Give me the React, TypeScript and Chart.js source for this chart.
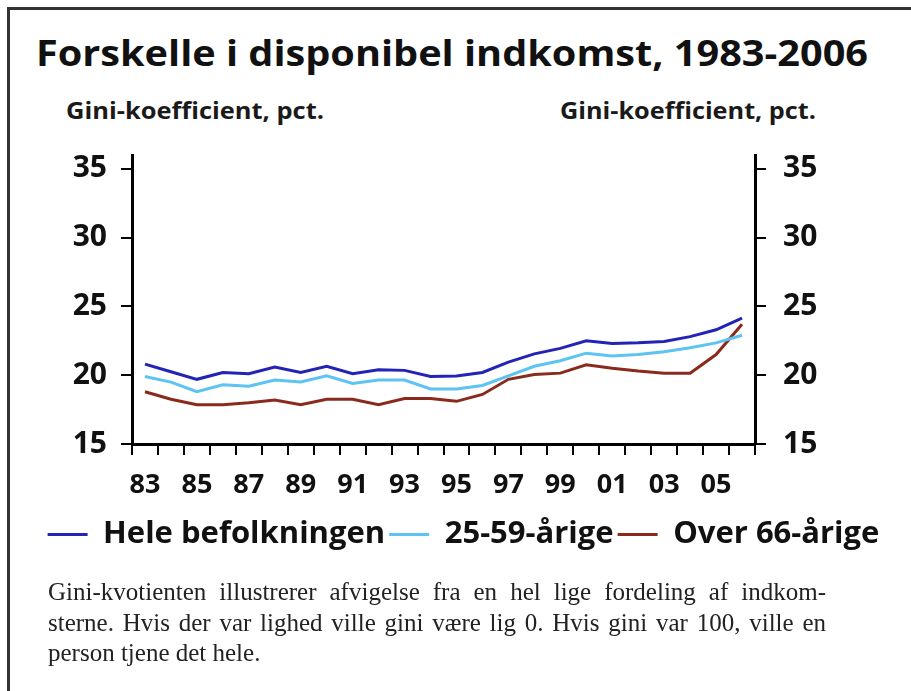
import React, { useEffect, useLayoutEffect, useRef } from 'react';
import { Chart, registerables } from 'chart.js';

Chart.register(...registerables);

const TITLE = 'Forskelle i disponibel indkomst, 1983-2006';
const UNIT_LABEL = 'Gini-koefficient, pct.';
const YEARS = ['83', '84', '85', '86', '87', '88', '89', '90', '91', '92', '93', '94', '95', '96', '97', '98', '99', '00', '01', '02', '03', '04', '05', '06'];
const Y_TICKS = [15, 20, 25, 30, 35];
const SERIES_NAMES = ['Hele befolkningen', '25-59-årige', 'Over 66-årige'];
const HELE = [20.8, 20.25, 19.7, 20.2, 20.1, 20.6, 20.2, 20.65, 20.1, 20.4, 20.35, 19.9, 19.95, 20.2, 20.95, 21.55, 21.95, 22.5, 22.3, 22.35, 22.45, 22.8, 23.3, 24.15];
const AGE_25_59 = [19.9, 19.5, 18.8, 19.3, 19.2, 19.65, 19.5, 19.95, 19.4, 19.65, 19.65, 19.0, 19.0, 19.25, 19.95, 20.65, 21.05, 21.6, 21.4, 21.5, 21.7, 22.0, 22.35, 22.9];
const OVER_66 = [18.8, 18.25, 17.85, 17.85, 18.0, 18.2, 17.85, 18.25, 18.25, 17.85, 18.3, 18.3, 18.1, 18.6, 19.7, 20.05, 20.15, 20.75, 20.5, 20.3, 20.15, 20.15, 21.5, 23.7];
const SERIES_COLORS = ['#2323b5', '#5cc3f2', '#8a2a1c'];
const CAPTION_LINES = [
  'Gini-kvotienten illustrerer afvigelse fra en hel lige fordeling af indkom-',
  'sterne. Hvis der var lighed ville gini være lig 0. Hvis gini var 100, ville en',
  'person tjene det hele.',
];

const SANS = '"Open Sans", "Noto Sans", sans-serif';

function FitText(props: { text: string; left: number; top: number; width: number; style: React.CSSProperties }) {
  const ref = useRef<HTMLSpanElement>(null);
  useLayoutEffect(() => {
    const el = ref.current;
    if (!el) return;
    el.style.transform = 'none';
    const w = el.getBoundingClientRect().width;
    if (w > 0) el.style.transform = `scaleX(${props.width / w})`;
  }, [props.text, props.width]);
  return (
    <span
      ref={ref}
      style={{
        position: 'absolute',
        left: props.left,
        top: props.top,
        whiteSpace: 'nowrap',
        display: 'inline-block',
        transformOrigin: '0 0',
        ...props.style,
      }}
    >
      {props.text}
    </span>
  );
}

export default function App() {
  const canvasRef = useRef<HTMLCanvasElement>(null);

  useEffect(() => {
    const canvas = canvasRef.current;
    if (!canvas) return;
    const setTicks = (axis: any) => {
      axis.ticks = Y_TICKS.map((v) => ({ value: v }));
    };
    const yCommon = (padding: number) => ({
      min: 15,
      max: 36,
      afterBuildTicks: setTicks,
      grid: { drawOnChartArea: false, drawTicks: true, tickLength: 11, color: '#000', lineWidth: 2 },
      border: { display: true, color: '#000', width: 3 },
      ticks: { padding, color: '#111', font: { family: SANS, size: 30, weight: 'bold' } },
    });
    const chart = new Chart(canvas, {
      type: 'line',
      data: {
        labels: YEARS,
        datasets: [
          { label: SERIES_NAMES[0], data: HELE, borderColor: SERIES_COLORS[0], backgroundColor: SERIES_COLORS[0], borderWidth: 3, pointRadius: 0, tension: 0, yAxisID: 'y' },
          { label: SERIES_NAMES[1], data: AGE_25_59, borderColor: SERIES_COLORS[1], backgroundColor: SERIES_COLORS[1], borderWidth: 3, pointRadius: 0, tension: 0, yAxisID: 'y' },
          { label: SERIES_NAMES[2], data: OVER_66, borderColor: SERIES_COLORS[2], backgroundColor: SERIES_COLORS[2], borderWidth: 3, pointRadius: 0, tension: 0, yAxisID: 'y' },
        ],
      },
      options: {
        responsive: false,
        animation: false,
        devicePixelRatio: 1,
        layout: { padding: { top: 155, left: 16, right: 0, bottom: 131 } },
        plugins: {
          legend: {
            position: 'bottom',
            labels: {
              usePointStyle: true,
              pointStyle: 'line',
              pointStyleWidth: 40,
              padding: 4,
              color: '#111',
              font: { family: SANS, size: 31, weight: 'bold' },
            },
          },
          tooltip: { enabled: false },
        },
        scales: {
          x: {
            type: 'category',
            offset: true,
            grid: { display: true, offset: true, drawOnChartArea: false, drawTicks: true, tickLength: 11, color: '#000', lineWidth: 2 },
            border: { display: true, color: '#000', width: 3 },
            ticks: {
              autoSkip: false,
              maxRotation: 0,
              padding: 14,
              color: '#111',
              font: { family: SANS, size: 27, weight: 'bold' },
              callback: (_v: any, i: number) => (i % 2 === 0 ? YEARS[i] : ''),
            },
            afterFit: (s: any) => {
              s.height = 71;
            },
          },
          y: {
            position: 'left',
            ...yCommon(14),
            afterFit: (s: any) => {
              s.width = 116;
            },
          } as any,
          y1: {
            position: 'right',
            ...yCommon(17),
            afterFit: (s: any) => {
              s.width = 156;
            },
          } as any,
        },
      } as any,
    });
    return () => chart.destroy();
  }, []);

  const unitStyle: React.CSSProperties = { fontFamily: SANS, fontWeight: 700, fontSize: 24, lineHeight: 1, color: '#1a1a1a' };

  return (
    <div style={{ position: 'absolute', left: 0, top: 0, width: 911, height: 691, background: '#fff', overflow: 'hidden' }}>
      <div style={{ position: 'absolute', left: 7, top: 7, right: -10, bottom: -10, borderLeft: '3px solid #333', borderTop: '3px solid #333' }} />
      <FitText text={TITLE} left={36} top={35} width={832} style={{ fontFamily: SANS, fontWeight: 700, fontSize: 36, lineHeight: 1, color: '#111' }} />
      <FitText text={UNIT_LABEL} left={66} top={98} width={258} style={unitStyle} />
      <FitText text={UNIT_LABEL} left={560} top={98} width={256} style={unitStyle} />
      <canvas ref={canvasRef} width={911} height={691} style={{ position: 'absolute', left: 0, top: 0, width: 911, height: 691 }} />
      <div style={{ position: 'absolute', left: 48, top: 577, width: 778, fontFamily: '"Liberation Serif", serif', fontSize: 25, lineHeight: '30.5px', color: '#222' }}>
        {CAPTION_LINES.map((line, i) => (
          <div key={i} style={{ textAlign: 'justify', textAlignLast: i < CAPTION_LINES.length - 1 ? 'justify' : 'left', whiteSpace: 'nowrap' }}>
            {line}
          </div>
        ))}
      </div>
    </div>
  );
}
